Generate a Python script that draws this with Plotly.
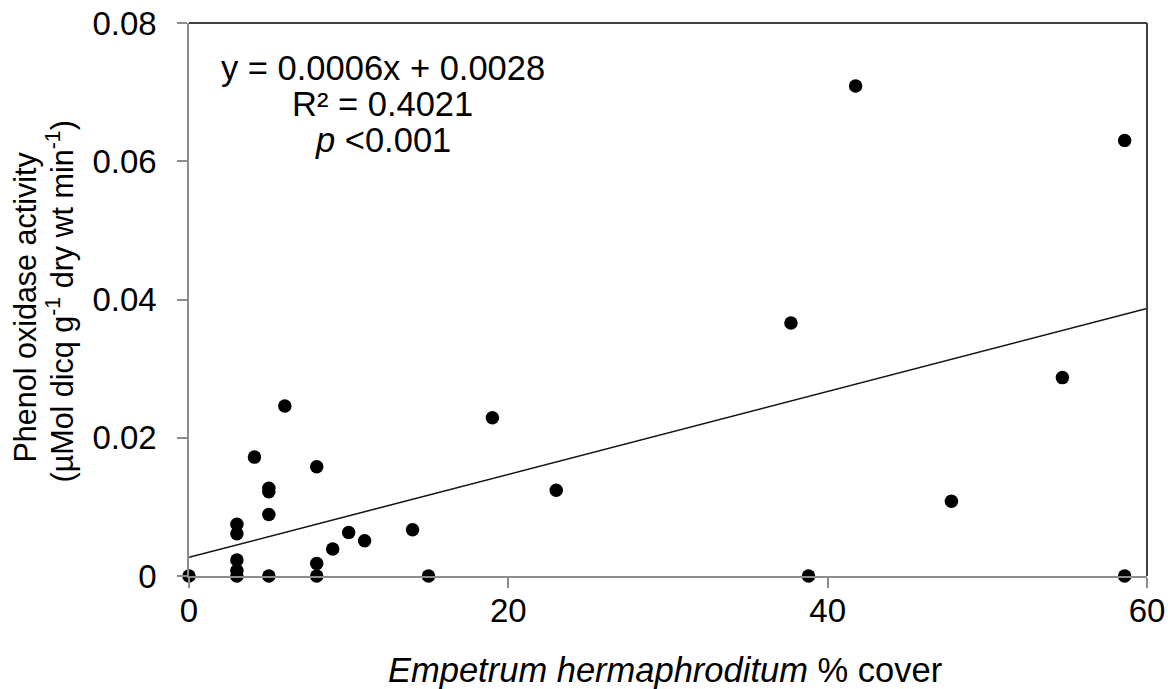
import plotly.graph_objects as go

# Data
cover = [0, 3, 3, 3, 3, 3, 4.1, 5, 5, 5, 5, 6, 8, 8, 8, 9, 10, 11, 14, 15,
         19, 23, 37.7, 38.8, 41.75, 47.75, 54.7, 58.6, 58.6]
activity = [0, 0, 0.0008, 0.0023, 0.0061, 0.0075, 0.0172, 0, 0.0089, 0.0122, 0.0127,
            0.0246, 0, 0.0018, 0.0158, 0.0039, 0.0063, 0.0051, 0.0067, 0,
            0.0229, 0.0124, 0.0366, 0, 0.0709, 0.0108, 0.0287, 0.063, 0]

slope = 0.0006
intercept = 0.0027
trend_x = [0, 60]
trend_y = [intercept + slope * v for v in trend_x]

x_ticks = [0, 20, 40, 60]
x_tick_labels = ["0", "20", "40", "60"]
y_ticks = [0, 0.02, 0.04, 0.06, 0.08]
y_tick_labels = ["0", "0.02", "0.04", "0.06", "0.08"]

eq_lines = ["y = 0.0006x + 0.0028", "R² = 0.4021", "<i>p</i> &lt;0.001"]
x_title = "<i>Empetrum hermaphroditum</i> % cover"
y_title_lines = ["Phenol oxidase activity",
                 "(µMol dicq g<sup>-1</sup> dry wt min<sup>-1</sup>)"]

FONT = "Liberation Sans, Arial, sans-serif"
AXIS_GREY = "#8c8c8c"

fig = go.Figure()
fig.add_trace(go.Scatter(x=trend_x, y=trend_y, mode="lines",
                         line=dict(color="#111111", width=1.5),
                         hoverinfo="skip", showlegend=False))
fig.add_trace(go.Scatter(x=cover, y=activity, mode="markers",
                         marker=dict(color="black", size=13.5),
                         cliponaxis=False, showlegend=False))

fig.update_layout(
    template="none",
    width=1168, height=689,
    margin=dict(l=189, r=21, t=23, b=113, autoexpand=False),
    paper_bgcolor="white", plot_bgcolor="white",
    font=dict(family=FONT, size=33, color="black"),
    xaxis=dict(range=[0, 60], tickvals=x_ticks, ticktext=x_tick_labels,
               showgrid=False, zeroline=False, showline=True, automargin=False,
               linecolor=AXIS_GREY, linewidth=1.5,
               ticks="outside", ticklen=10, tickcolor=AXIS_GREY, tickwidth=1.5,
               ticklabelstandoff=-5,
               tickfont=dict(size=33), title=dict(text=""), fixedrange=True),
    yaxis=dict(range=[0, 0.08], tickvals=y_ticks, ticktext=y_tick_labels,
               showgrid=False, zeroline=False, showline=True, automargin=False,
               linecolor=AXIS_GREY, linewidth=1.5,
               ticks="outside", ticklen=10, tickcolor=AXIS_GREY, tickwidth=1.5,
               ticklabelstandoff=14,
               tickfont=dict(size=33), title=dict(text=""), fixedrange=True),
)

# Plot-area border (top and right)
fig.add_shape(type="line", xref="paper", yref="paper", x0=0, x1=1, y0=1, y1=1,
              line=dict(color="#404040", width=2))
fig.add_shape(type="line", xref="paper", yref="paper", x0=1, x1=1, y0=0, y1=1,
              line=dict(color="#404040", width=2))

# Axis titles
fig.add_annotation(xref="paper", yref="paper", x=0.497, y=0, yanchor="middle",
                   yshift=-94, showarrow=False, text=x_title,
                   font=dict(size=34.5))
for txt, xs, ys in zip(y_title_lines, [-164, -128], [-8, -2]):
    fig.add_annotation(xref="paper", yref="paper", x=0, y=0.5, xanchor="center",
                       yanchor="middle", xshift=xs, yshift=ys, textangle=-90,
                       showarrow=False, text=txt, font=dict(size=30.5))

# Regression text
eq_y = [0.9186, 0.8535, 0.7884]
for txt, yy in zip(eq_lines, eq_y):
    fig.add_annotation(xref="paper", yref="paper", x=0.2025, y=yy,
                       xanchor="center", yanchor="middle", showarrow=False,
                       text=txt, font=dict(size=34.5))

fig.write_html("out.html",
               config={"displayModeBar": False},
               post_script="document.body.style.margin='0';document.body.style.overflow='hidden';")
